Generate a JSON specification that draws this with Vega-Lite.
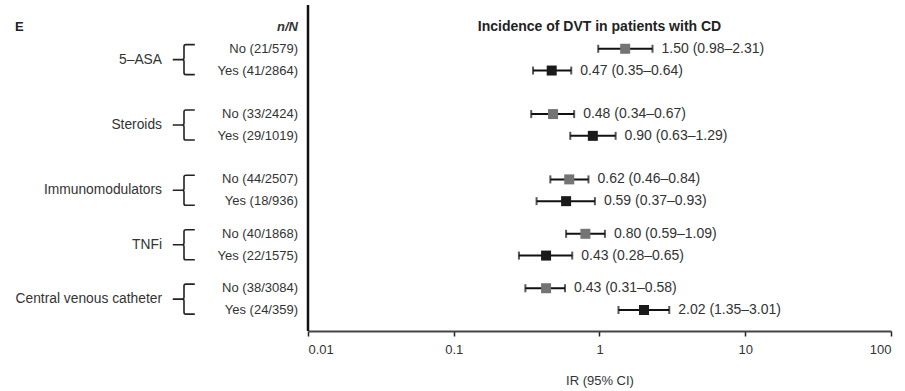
{
  "$schema": "https://vega.github.io/schema/vega-lite/v6.json",
  "width": 583,
  "height": 326,
  "autosize": {"type": "none"},
  "padding": {"left": 308, "top": 5, "right": 14, "bottom": 60},
  "background": "white",
  "config": {
    "view": {"stroke": null},
    "font": "Liberation Sans",
    "text": {"font": "Liberation Sans", "fontSize": 13, "color": "#333333", "baseline": "middle"}
  },
  "datasets": {
    "rows": [
      {"key": "5-ASA No", "arm": "No", "label": "No (21/579)", "ir": 1.50, "lo": 0.98, "hi": 2.31, "ci": "1.50 (0.98–2.31)"},
      {"key": "5-ASA Yes", "arm": "Yes", "label": "Yes (41/2864)", "ir": 0.47, "lo": 0.35, "hi": 0.64, "ci": "0.47 (0.35–0.64)"},
      {"key": "Steroids No", "arm": "No", "label": "No (33/2424)", "ir": 0.48, "lo": 0.34, "hi": 0.67, "ci": "0.48 (0.34–0.67)"},
      {"key": "Steroids Yes", "arm": "Yes", "label": "Yes (29/1019)", "ir": 0.90, "lo": 0.63, "hi": 1.29, "ci": "0.90 (0.63–1.29)"},
      {"key": "Immunomodulators No", "arm": "No", "label": "No (44/2507)", "ir": 0.62, "lo": 0.46, "hi": 0.84, "ci": "0.62 (0.46–0.84)"},
      {"key": "Immunomodulators Yes", "arm": "Yes", "label": "Yes (18/936)", "ir": 0.59, "lo": 0.37, "hi": 0.93, "ci": "0.59 (0.37–0.93)"},
      {"key": "TNFi No", "arm": "No", "label": "No (40/1868)", "ir": 0.80, "lo": 0.59, "hi": 1.09, "ci": "0.80 (0.59–1.09)"},
      {"key": "TNFi Yes", "arm": "Yes", "label": "Yes (22/1575)", "ir": 0.43, "lo": 0.28, "hi": 0.65, "ci": "0.43 (0.28–0.65)"},
      {"key": "Central venous catheter No", "arm": "No", "label": "No (38/3084)", "ir": 0.43, "lo": 0.31, "hi": 0.58, "ci": "0.43 (0.31–0.58)"},
      {"key": "Central venous catheter Yes", "arm": "Yes", "label": "Yes (24/359)", "ir": 2.02, "lo": 1.35, "hi": 3.01, "ci": "2.02 (1.35–3.01)"}
    ],
    "groups": [
      {"key": "5-ASA mid", "name": "5–ASA"},
      {"key": "Steroids mid", "name": "Steroids"},
      {"key": "Immunomodulators mid", "name": "Immunomodulators"},
      {"key": "TNFi mid", "name": "TNFi"},
      {"key": "Central venous catheter mid", "name": "Central venous catheter"}
    ],
    "header": [
      {"key": "hdr", "nN": "n/N", "panel": "E", "title": "Incidence of DVT in patients with CD"}
    ]
  },
  "resolve": {"scale": {"x": "shared", "y": "shared"}},
  "layer": [
    {
      "data": {"name": "header"},
      "mark": {"type": "rule", "color": "#111111", "strokeWidth": 2.5},
      "encoding": {
        "x": {"datum": 0.01, "type": "quantitative", "title": "IR (95% CI)",
              "scale": {"type": "log", "domain": [0.01, 100]}}
      }
    },
    {
      "data": {"name": "rows"},
      "mark": {"type": "rule", "color": "#111111", "strokeWidth": 2},
      "encoding": {
        "x": {"field": "lo", "type": "quantitative", "title": "IR (95% CI)",
              "scale": {"type": "log", "domain": [0.01, 100]},
              "axis": {"values": [0.01, 0.1, 1, 10, 100], "format": "~g", "grid": false,
                       "domainColor": "#444444", "domainWidth": 2, "tickColor": "#222222",
                       "tickWidth": 1.5, "tickSize": 5, "labelFontSize": 13, "labelColor": "#333333",
                       "labelFont": "Liberation Sans", "labelPadding": 7, "titleFont": "Liberation Sans",
                       "titleFontSize": 13, "titleFontWeight": "normal", "titleColor": "#333333",
                       "titlePadding": 18}},
        "x2": {"field": "hi"},
        "y": {"field": "key", "type": "ordinal", "axis": null,
              "scale": {"type": "point", "padding": 0,
                        "domain": ["hdr", "s1", "5-ASA No", "5-ASA mid", "5-ASA Yes", "s2", "s3", "s4",
                                   "Steroids No", "Steroids mid", "Steroids Yes", "s5", "s6", "s7",
                                   "Immunomodulators No", "Immunomodulators mid", "Immunomodulators Yes", "s8", "s9",
                                   "TNFi No", "TNFi mid", "TNFi Yes", "s10", "s11",
                                   "Central venous catheter No", "Central venous catheter mid", "Central venous catheter Yes"],
                        "range": [22, 305]}}
      }
    },
    {
      "data": {"name": "rows"},
      "mark": {"type": "tick", "color": "#111111", "size": 8, "thickness": 2},
      "encoding": {
        "x": {"field": "lo", "type": "quantitative", "title": "IR (95% CI)"},
        "y": {"field": "key", "type": "ordinal"}
      }
    },
    {
      "data": {"name": "rows"},
      "mark": {"type": "tick", "color": "#111111", "size": 8, "thickness": 2},
      "encoding": {
        "x": {"field": "hi", "type": "quantitative", "title": "IR (95% CI)"},
        "y": {"field": "key", "type": "ordinal"}
      }
    },
    {
      "data": {"name": "rows"},
      "mark": {"type": "point", "shape": "square", "filled": true, "size": 100, "opacity": 1},
      "encoding": {
        "x": {"field": "ir", "type": "quantitative", "title": "IR (95% CI)"},
        "y": {"field": "key", "type": "ordinal"},
        "color": {"field": "arm", "type": "nominal", "legend": null,
                  "scale": {"domain": ["No", "Yes"], "range": ["#747474", "#1a1a1a"]}}
      }
    },
    {
      "data": {"name": "rows"},
      "mark": {"type": "text", "align": "left", "dx": 9, "fontSize": 14},
      "encoding": {
        "x": {"field": "hi", "type": "quantitative", "title": "IR (95% CI)"},
        "y": {"field": "key", "type": "ordinal"},
        "text": {"field": "ci"}
      }
    },
    {
      "data": {"name": "rows"},
      "mark": {"type": "text", "align": "right", "dx": -10},
      "encoding": {
        "x": {"datum": 0.01, "type": "quantitative", "title": "IR (95% CI)"},
        "y": {"field": "key", "type": "ordinal"},
        "text": {"field": "label"}
      }
    },
    {
      "data": {"name": "groups"},
      "mark": {"type": "text", "align": "right", "dx": -146, "fontSize": 13.8},
      "encoding": {
        "x": {"datum": 0.01, "type": "quantitative", "title": "IR (95% CI)"},
        "y": {"field": "key", "type": "ordinal"},
        "text": {"field": "name"}
      }
    },
    {
      "data": {"name": "groups"},
      "mark": {"type": "point", "filled": false, "stroke": "#222222", "strokeWidth": 1.6, "opacity": 1,
               "size": 900, "xOffset": -124,
               "shape": "M 0.72 -1 L 0.12 -1 Q 0 -1 0 -0.88 L 0 -0.12 Q 0 0 -0.12 0 L -0.75 0 M -0.12 0 Q 0 0 0 0.12 L 0 0.88 Q 0 1 0.12 1 L 0.72 1"},
      "encoding": {
        "x": {"datum": 0.01, "type": "quantitative", "title": "IR (95% CI)"},
        "y": {"field": "key", "type": "ordinal"}
      }
    },
    {
      "data": {"name": "header"},
      "mark": {"type": "text", "align": "right", "dx": -10, "fontWeight": "bold", "fontStyle": "italic"},
      "encoding": {
        "x": {"datum": 0.01, "type": "quantitative", "title": "IR (95% CI)"},
        "y": {"field": "key", "type": "ordinal"},
        "text": {"field": "nN"}
      }
    },
    {
      "data": {"name": "header"},
      "mark": {"type": "text", "align": "left", "dx": -293, "fontWeight": "bold", "color": "#222222"},
      "encoding": {
        "x": {"datum": 0.01, "type": "quantitative", "title": "IR (95% CI)"},
        "y": {"field": "key", "type": "ordinal"},
        "text": {"field": "panel"}
      }
    },
    {
      "data": {"name": "header"},
      "mark": {"type": "text", "align": "center", "fontWeight": "bold", "color": "#222222", "fontSize": 14},
      "encoding": {
        "x": {"datum": 1, "type": "quantitative", "title": "IR (95% CI)"},
        "y": {"field": "key", "type": "ordinal"},
        "text": {"field": "title"}
      }
    }
  ]
}
